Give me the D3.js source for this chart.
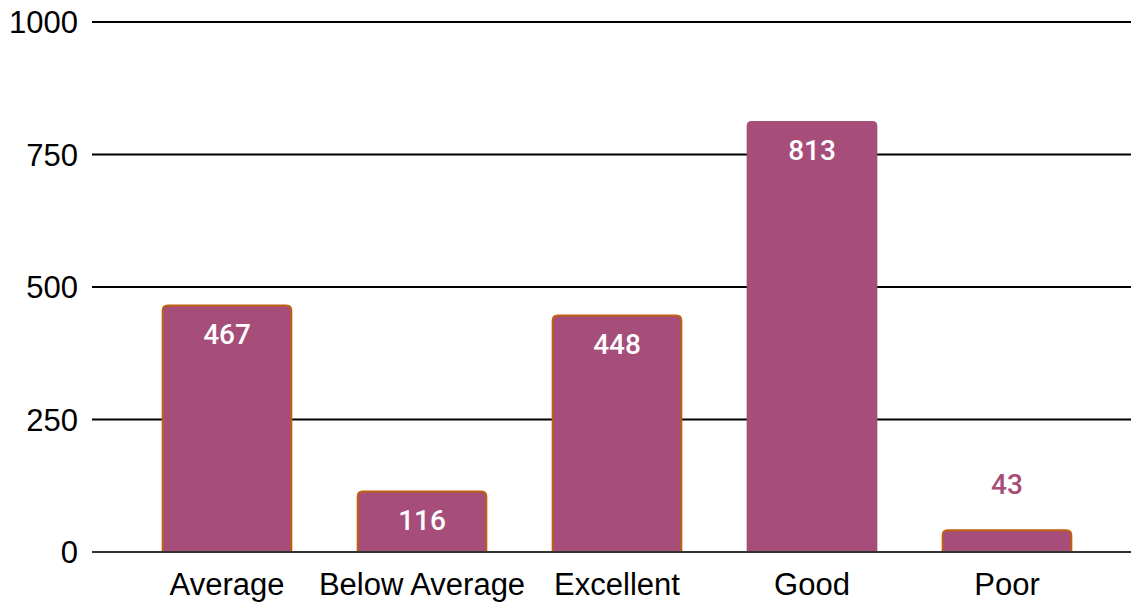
<!DOCTYPE html>
<html><head><meta charset="utf-8">
<script src="https://cdn.jsdelivr.net/npm/d3@7"></script>
<style>body{margin:0;background:#fff}</style>
</head><body>
<svg id="c" width="1131" height="602"></svg>
<script>
const categories = ["Average","Below Average","Excellent","Good","Poor"];
const values = [467,116,448,813,43];
const strokes = [true,true,true,false,true];
const yTicks = [0,250,500,750,1000];

const svg = d3.select("#c");
const x = d3.scaleBand().domain(categories).range([129.5,1104.5]).paddingInner(0.33).paddingOuter(0.165);
const y = d3.scaleLinear().domain([0,1000]).range([552,22]);

svg.append("g").selectAll("line").data(yTicks.filter(d=>d>0)).join("line")
  .attr("x1",92).attr("x2",1131).attr("y1",d=>y(d)).attr("y2",d=>y(d))
  .attr("stroke","#000").attr("stroke-width",2);
svg.append("g").selectAll("text").data(yTicks).join("text")
  .attr("x",78).attr("y",d=>y(d)).attr("dy","0.36em").attr("text-anchor","end")
  .attr("font-family","Liberation Sans, Arial, sans-serif").attr("font-size",31).attr("fill","#000")
  .text(d=>d);

function barPath(x0,y0,w,h,r){
  r=Math.min(r,h,w/2);
  return `M${x0},${y0+h}V${y0+r}Q${x0},${y0} ${x0+r},${y0}H${x0+w-r}Q${x0+w},${y0} ${x0+w},${y0+r}V${y0+h}Z`;
}
const data = categories.map((c,i)=>({c,v:values[i],s:strokes[i]}));
svg.append("g").selectAll("path").data(data).join("path")
  .attr("d",d=>{
    const inset = d.s?1:0;
    return barPath(x(d.c)+inset,y(d.v)+inset,x.bandwidth()-2*inset,y(0)-y(d.v)-inset,5);
  })
  .attr("fill","#a64d79")
  .attr("stroke",d=>d.s?"#c0610f":"none").attr("stroke-width",2);

svg.append("line").attr("x1",92).attr("x2",1131).attr("y1",y(0)).attr("y2",y(0))
  .attr("stroke","#333").attr("stroke-width",2);

svg.append("g").selectAll("text").data(data).join("text")
  .attr("x",d=>x(d.c)+x.bandwidth()/2)
  .attr("y",d=> (y(0)-y(d.v))>60 ? y(d.v)+29 : y(d.v)-45)
  .attr("dy","0.36em").attr("text-anchor","middle")
  .attr("font-family","Roboto, sans-serif").attr("font-size",28).attr("font-weight",500)
  .attr("fill",d=> (y(0)-y(d.v))>60 ? "#fff" : "#a64d79")
  .text(d=>d.v);

svg.append("g").selectAll("text").data(categories).join("text")
  .attr("x",d=>x(d)+x.bandwidth()/2).attr("y",584).attr("dy","0.36em").attr("text-anchor","middle")
  .attr("font-family","Liberation Sans, Arial, sans-serif").attr("font-size",31).attr("fill","#000")
  .text(d=>d);
</script>
</body></html>
